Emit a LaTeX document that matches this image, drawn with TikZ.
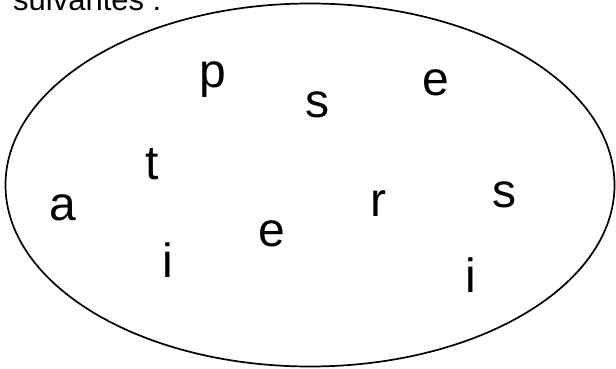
\documentclass[tikz,border=0pt]{standalone}
\usepackage{fontspec}
\setmainfont{Liberation Sans}
\usetikzlibrary{shapes.geometric}
\begin{document}
\begin{tikzpicture}[x=1pt,y=1pt,
  letter/.style={anchor=base,inner sep=0pt,font=\fontsize{48}{50}\selectfont},
  toptext/.style={anchor=base west,inner sep=0pt,font=\fontsize{31}{34}\selectfont}]
\useasboundingbox (0,0) rectangle (616,368);
\node[draw,line width=1.7pt,ellipse,minimum width=609pt,minimum height=363pt,inner sep=0pt] (set) at (310,183) {};
\node[toptext] (title) at (13,358) {suivantes :};
\node[letter] (p) at (213,281) {p};
\node[letter] (s1) at (317,251) {s};
\node[letter] (e1) at (436,273) {e};
\node[letter] (t) at (152,189) {t};
\node[letter] (a) at (63,148) {a};
\node[letter] (r) at (378,152) {r};
\node[letter] (s2) at (504,161) {s};
\node[letter] (e2) at (272,122) {e};
\node[letter] (i1) at (168,91) {i};
\node[letter] (i2) at (471,76) {i};
\end{tikzpicture}
\end{document}
